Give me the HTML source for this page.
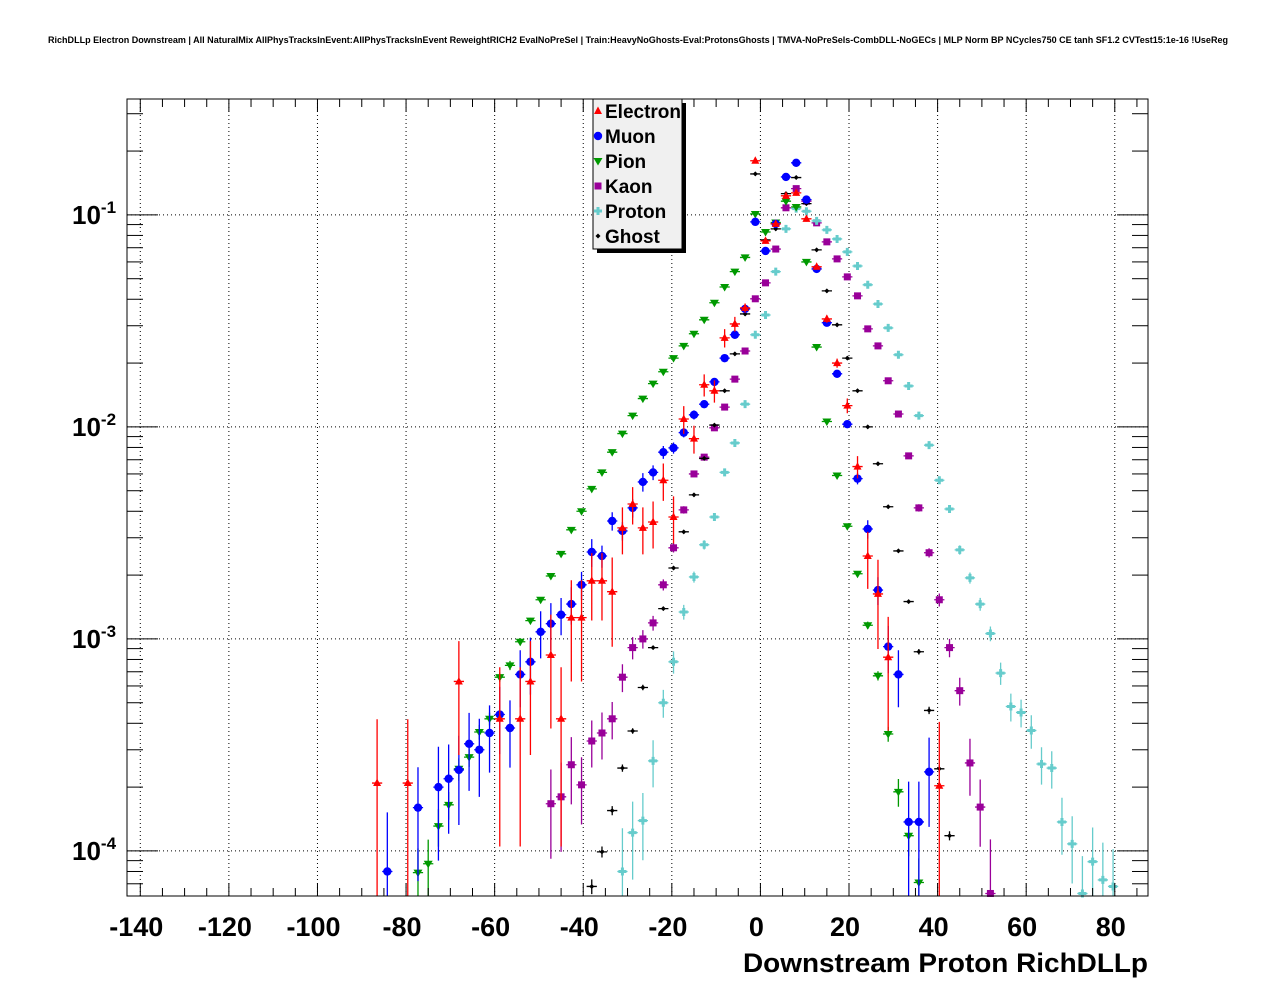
<!DOCTYPE html>
<html><head><meta charset="utf-8"><style>
html,body{margin:0;padding:0;background:#fff;}
svg{display:block;font-family:"Liberation Sans",Arial,sans-serif;}
</style></head><body>
<svg id="chart" width="1276" height="996" viewBox="0 0 1276 996" xmlns="http://www.w3.org/2000/svg">
<rect x="0" y="0" width="1276" height="996" fill="#ffffff"/>
<text x="48" y="43" font-size="9" font-weight="bold" textLength="1180" lengthAdjust="spacingAndGlyphs">RichDLLp Electron Downstream | All NaturalMix AllPhysTracksInEvent:AllPhysTracksInEvent ReweightRICH2 EvalNoPreSel | Train:HeavyNoGhosts-Eval:ProtonsGhosts | TMVA-NoPreSels-CombDLL-NoGECs | MLP Norm BP NCycles750 CE tanh SF1.2 CVTest15:1e-16 !UseReg</text>
<g id="grid"></g>
<g id="marks"></g>
<rect x="127" y="99" width="1021" height="797" fill="none" stroke="#000" stroke-width="1"/>
<g id="axes"></g>
<text x="1148" y="972" font-size="27" font-weight="bold" text-anchor="end" textLength="405" lengthAdjust="spacingAndGlyphs">Downstream Proton RichDLLp</text>
<g id="legend">
<rect x="597" y="103" width="89" height="150" fill="#000"/>
<rect x="593" y="99" width="89" height="150" fill="#f0f0f0" stroke="#000" stroke-width="1"/>
</g>
</svg>
<script>
// ---- data ----
const binWidth = 300/130;
const electronBins = [27,30,35,39,41,42,44,45,46,47,48,49,50,51,52,53,54,55,56,57,58,59,60,61,62,63,64,65,66,67,68,69,70,71,72,73,74,75,76,77,82];
const electronVals = [2.09e-4,2.09e-4,6.3e-4,4.2e-4,4.2e-4,6.3e-4,8.4e-4,4.2e-4,1.26e-3,1.26e-3,1.88e-3,1.88e-3,1.67e-3,3.34e-3,4.33e-3,3.34e-3,3.56e-3,5.6e-3,3.76e-3,1.09e-2,8.8e-3,1.58e-2,1.48e-2,2.63e-2,3.06e-2,3.64e-2,0.18,0.0754,0.0907,0.123,0.127,0.0958,0.0569,0.0323,0.02,0.0126,6.5e-3,2.46e-3,1.63e-3,8.2e-4,2.03e-4];
const electronErr = [1,1,0.55,0.75,0.75,0.55,0.55,0.75,0.5,0.5,0.35,0.35,0.45,0.25,0.2,0.25,0.25,0.2,0.25,0.15,0.15,0.12,0.12,0.1,0.08,0.05,0.03,0.03,0.03,0.03,0.03,0.03,0.03,0.04,0.05,0.08,0.12,0.3,0.45,0.55,1];
const muonBins = [28,31,33,34,35,36,37,38,39,40,41,42,43,44,45,46,47,48,49,50,51,52,53,54,55,56,57,58,59,60,61,62,63,64,65,66,67,68,69,70,71,72,73,74,75,76,77,78,79,80,81];
const muonVals = [8.0e-5,1.6e-4,2.0e-4,2.19e-4,2.41e-4,3.2e-4,3.0e-4,3.6e-4,4.4e-4,3.8e-4,6.8e-4,7.8e-4,1.08e-3,1.18e-3,1.30e-3,1.46e-3,1.8e-3,2.57e-3,2.46e-3,3.6e-3,3.23e-3,4.15e-3,5.5e-3,6.1e-3,7.6e-3,7.96e-3,9.4e-3,1.14e-2,1.28e-2,1.63e-2,2.11e-2,2.72e-2,3.6e-2,0.0927,0.0676,0.0907,0.151,0.176,0.118,0.0556,0.031,0.0178,0.0103,5.7e-3,3.3e-3,1.7e-3,9.2e-4,6.8e-4,1.37e-4,1.37e-4,2.36e-4];
const muonErr = [0.9,0.55,0.55,0.45,0.45,0.4,0.4,0.35,0.35,0.35,0.3,0.3,0.25,0.25,0.2,0.2,0.15,0.15,0.12,0.1,0.1,0.1,0.1,0.08,0.07,0.06,0.05,0.05,0.04,0.04,0.03,0.03,0.03,0.02,0.02,0.02,0.02,0.02,0.02,0.02,0.03,0.03,0.04,0.06,0.1,0.15,0.25,0.3,0.55,0.55,0.45];
const pionBins = [31,32,33,34,35,36,37,38,39,40,41,42,43,44,45,46,47,48,49,50,51,52,53,54,55,56,57,58,59,60,61,62,63,64,65,66,67,68,69,70,71,72,73,74,75,76,77,78,79,80];
const pionVals = [7.9e-5,8.7e-5,1.31e-4,1.65e-4,2.44e-4,2.77e-4,3.64e-4,4.2e-4,6.6e-4,7.5e-4,9.7e-4,1.22e-3,1.53e-3,1.98e-3,2.52e-3,3.27e-3,4.0e-3,5.1e-3,6.1e-3,7.6e-3,9.3e-3,1.13e-2,1.36e-2,1.6e-2,1.82e-2,2.11e-2,2.41e-2,2.75e-2,3.2e-2,3.85e-2,4.57e-2,5.4e-2,6.3e-2,0.101,0.083,0.092,0.116,0.109,0.060,0.0238,0.0106,5.9e-3,3.4e-3,2.03e-3,1.16e-3,6.7e-4,3.56e-4,1.9e-4,1.18e-4,7.1e-5];
const pionErr = [0.3,0.3,0.2,0.15,0.12,0.1,0.08,0.07,0.05,0.05,0.04,0.03,0.03,0.02,0.02,0.02,0.02,0.02,0.02,0.02,0.02,0.02,0.02,0.02,0.02,0.02,0.02,0.02,0.02,0.02,0.02,0.02,0.02,0.02,0.02,0.02,0.02,0.02,0.02,0.02,0.02,0.02,0.02,0.03,0.04,0.05,0.08,0.15,0.2,0.3];
const kaonBins = [44,45,46,47,48,49,50,51,52,53,54,55,56,57,58,59,60,61,62,63,64,65,66,67,68,69,70,71,72,73,74,75,76,77,78,79,80,81,82,83,84,85,86,87];
const kaonVals = [1.67e-4,1.8e-4,2.55e-4,2.05e-4,3.3e-4,3.6e-4,4.2e-4,6.6e-4,9.1e-4,1.0e-3,1.19e-3,1.8e-3,2.69e-3,4.06e-3,6.0e-3,7.2e-3,9.9e-3,1.24e-2,1.68e-2,2.28e-2,4.02e-2,4.78e-2,6.9e-2,0.108,0.133,0.116,0.0917,0.0746,0.062,0.051,0.0415,0.029,0.0241,0.0165,0.0115,7.3e-3,4.15e-3,2.55e-3,1.53e-3,9.1e-4,5.7e-4,2.6e-4,1.61e-4,6.3e-5];
const kaonErr = [0.45,0.45,0.35,0.35,0.25,0.25,0.2,0.15,0.12,0.1,0.08,0.06,0.05,0.04,0.03,0.02,0.02,0.02,0.02,0.02,0.02,0.02,0.02,0.02,0.02,0.02,0.02,0.02,0.02,0.02,0.02,0.02,0.02,0.02,0.02,0.03,0.04,0.05,0.07,0.1,0.15,0.3,0.35,0.8];
const protonBins = [51,52,53,54,55,56,57,58,59,60,61,62,63,64,65,66,67,68,69,70,71,72,73,74,75,76,77,78,79,80,81,82,83,84,85,86,87,88,89,90,91,92,93,94,95,96,97,98,99];
const protonVals = [8.0e-5,1.22e-4,1.39e-4,2.66e-4,5.0e-4,7.8e-4,1.34e-3,1.96e-3,2.78e-3,3.76e-3,6.1e-3,8.4e-3,1.28e-2,2.72e-2,3.37e-2,5.4e-2,0.0859,0.107,0.104,0.0937,0.085,0.077,0.0669,0.0574,0.0468,0.038,0.0293,0.0219,0.0156,0.0113,8.2e-3,5.6e-3,4.1e-3,2.63e-3,1.94e-3,1.46e-3,1.06e-3,6.9e-4,4.8e-4,4.5e-4,3.7e-4,2.57e-4,2.46e-4,1.37e-4,1.08e-4,6.3e-5,8.9e-5,7.3e-5,6.8e-5];
const protonErr = [0.6,0.4,0.35,0.25,0.15,0.12,0.08,0.06,0.05,0.04,0.03,0.03,0.02,0.02,0.02,0.02,0.02,0.02,0.02,0.02,0.02,0.02,0.02,0.02,0.02,0.02,0.02,0.02,0.02,0.02,0.03,0.03,0.04,0.05,0.06,0.07,0.08,0.12,0.15,0.15,0.18,0.2,0.2,0.3,0.35,0.5,0.45,0.5,0.5];
const ghostBins = [48,49,50,51,52,53,54,55,56,57,58,59,60,61,62,63,64,65,66,67,68,69,70,71,72,73,74,75,76,77,78,79,80,81,82,83];
const ghostVals = [6.8e-5,9.9e-5,1.55e-4,2.46e-4,3.68e-4,5.9e-4,9.1e-4,1.39e-3,2.16e-3,3.2e-3,4.78e-3,7.1e-3,1.02e-2,1.48e-2,2.21e-2,3.41e-2,0.156,0.0762,0.0859,0.126,0.15,0.113,0.0684,0.0438,0.0303,0.0211,0.0148,0.01,6.7e-3,4.2e-3,2.6e-3,1.5e-3,8.7e-4,4.6e-4,2.44e-4,1.18e-4];
const ghostErr = [0.08,0.06,0.05,0.04,0.03,0.03,0.02,0.02,0.02,0.02,0.02,0.02,0.02,0.02,0.02,0.02,0.02,0.02,0.02,0.02,0.02,0.02,0.02,0.02,0.02,0.02,0.02,0.02,0.02,0.02,0.02,0.02,0.03,0.04,0.04,0.05];
const xTickVals = [-140,-120,-100,-80,-60,-40,-20,0,20,40,60,80];
const yDecades = [-1,-2,-3,-4];

// ---- scales ----
const X0 = 127, X1 = 1148, Y0 = 99, Y1 = 896;
const xmin = -143.0, xmax = 87.5;
const ymin = 6.13e-5, ymax = 0.352;
const lmin = Math.log10(ymin), lmax = Math.log10(ymax);
function xs(v){ return X0 + (v - xmin)/(xmax - xmin)*(X1 - X0); }
function ys(v){ return Y1 - (Math.log10(v) - lmin)/(lmax - lmin)*(Y1 - Y0); }
function binCenter(k){ return -150 + (k + 0.5)*binWidth; }

const NS = "http://www.w3.org/2000/svg";
function mk(tag, attrs, parent){
  const e = document.createElementNS(NS, tag);
  for (const a in attrs) e.setAttribute(a, attrs[a]);
  parent.appendChild(e);
  return e;
}
const grid = document.getElementById('grid');
const axes = document.getElementById('axes');
const marks = document.getElementById('marks');
const legend = document.getElementById('legend');

for (const t of xTickVals){
  const x = xs(t);
  const gl = mk('line',{x1:x,y1:Y0,x2:x,y2:Y1,stroke:'#000','stroke-width':1,'stroke-dasharray':'1,3'},grid);
  
  
  const lab = mk('text',{x:x-4,y:936,'font-size':27,'font-weight':'bold','text-anchor':'middle'},axes);
  lab.textContent = String(t);
  
  
}
for (let v = -140; v <= 85; v += 5){
  const x = xs(v);
  const major = (v % 20 === 0);
  const len = major ? 13 : 8;
  const tb = mk('line',{x1:x,y1:Y1,x2:x,y2:Y1-len,stroke:'#000','stroke-width':1},axes);
  
  
  const tt = mk('line',{x1:x,y1:Y0,x2:x,y2:Y0+len,stroke:'#000','stroke-width':1},axes);
  
  
}
for (const d of yDecades){
  const y = ys(Math.pow(10,d));
  const gl = mk('line',{x1:X0,y1:y,x2:X1,y2:y,stroke:'#000','stroke-width':1,'stroke-dasharray':'1,3'},grid);
  
  
  const lab = mk('text',{x:72,y:y+9,'font-size':26,'font-weight':'bold'},axes);
  
  
  const base = mk('tspan',{},lab); base.textContent = '10';
  const sup = mk('tspan',{dy:-11,'font-size':17}, lab); sup.textContent = String(d);
}
for (let d = -5; d <= 0; d++){
  for (let m = 1; m <= 9; m++){
    const v = m*Math.pow(10,d);
    if (v < ymin || v > ymax) continue;
    const y = ys(v);
    const len = m === 1 ? 31 : 16;
    const tl = mk('line',{x1:X0,y1:y,x2:X0+len,y2:y,stroke:'#000','stroke-width':1},axes);
    
    
    const tr = mk('line',{x1:X1,y1:y,x2:X1-len,y2:y,stroke:'#000','stroke-width':1},axes);
    
    
  }
}

function marker(type, cx, cy, color, parent){
  let e;
  if (type === 'tri-up') e = mk('polygon',{points:`${cx},${cy-4.5} ${cx+4},${cy+3} ${cx-4},${cy+3}`,fill:color},parent);
  else if (type === 'tri-down') e = mk('polygon',{points:`${cx},${cy+4.5} ${cx+4.5},${cy-3} ${cx-4.5},${cy-3}`,fill:color},parent);
  else if (type === 'circle') e = mk('circle',{cx:cx,cy:cy,r:4.2,fill:color},parent);
  else if (type === 'square') e = mk('rect',{x:cx-3.5,y:cy-3.5,width:7,height:7,fill:color},parent);
  else if (type === 'cross') e = mk('path',{d:`M${cx-4},${cy}H${cx+4}M${cx},${cy-4}V${cy+4}`,stroke:color,'stroke-width':3,fill:'none'},parent);
  else e = mk('polygon',{points:`${cx},${cy-2.5} ${cx+2.5},${cy} ${cx},${cy+2.5} ${cx-2.5},${cy}`,fill:color},parent);
  return e;
}
const series = [
  {name:'electron', bins:electronBins, vals:electronVals, err:electronErr, color:'#ff0000', type:'tri-up'},
  {name:'muon', bins:muonBins, vals:muonVals, err:muonErr, color:'#0000ff', type:'circle'},
  {name:'pion', bins:pionBins, vals:pionVals, err:pionErr, color:'#009900', type:'tri-down'},
  {name:'kaon', bins:kaonBins, vals:kaonVals, err:kaonErr, color:'#990099', type:'square'},
  {name:'proton', bins:protonBins, vals:protonVals, err:protonErr, color:'#66cccc', type:'cross'},
  {name:'ghost', bins:ghostBins, vals:ghostVals, err:ghostErr, color:'#000000', type:'diamond'}
];
const drawOrder = [3,4,5,2,1,0];
for (const si of drawOrder){
  const s = series[si];
  const g = mk('g',{},marks);
  
  
  for (let i = 0; i < s.vals.length; i++){
    const v = s.vals[i];
    const cx = xs(binCenter(s.bins[i]));
    const cy = ys(v);
    const hw = xs(binCenter(s.bins[i]) + binWidth/2) - cx;
    const hi = ys(Math.min(v*(1+s.err[i]), ymax));
    const lo = (v*(1-s.err[i]) > ymin) ? ys(v*(1-s.err[i])) : Y1;
    const eb = mk('path',{d:`M${cx-hw},${cy}H${cx+hw}M${cx},${hi}V${lo}`,stroke:s.color,'stroke-width':1.3,fill:'none'},g);
    
    
    const m = marker(s.type, cx, cy, s.color, g);
    
    
  }
}
const legendLabels = ['Electron','Muon','Pion','Kaon','Proton','Ghost'];
for (let i = 0; i < series.length; i++){
  const y = 111 + i*25;
  const m = marker(series[i].type, 598, y, series[i].color, legend);
  
  
  const t = mk('text',{x:605,y:y+7,'font-size':19,'font-weight':'bold'},legend);
  t.textContent = legendLabels[i];
  
  
}
</script>
</body></html>
